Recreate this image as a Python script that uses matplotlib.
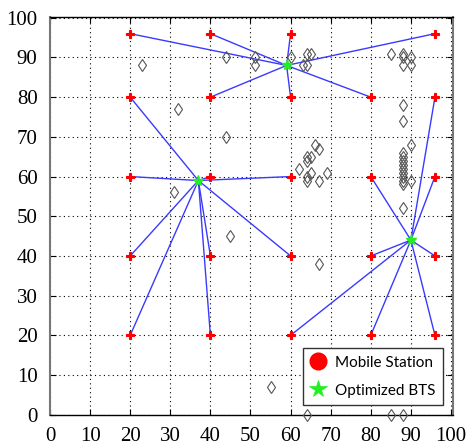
import matplotlib
matplotlib.use("Agg")
import matplotlib.pyplot as plt
from matplotlib.lines import Line2D
import numpy as np

# Mobile stations
ms_x = [20, 40, 60, 96, 20, 40, 60, 80, 96, 20, 40, 60, 80, 96, 20, 40, 60, 80, 96, 20, 40, 60, 80, 96]
ms_y = [96, 96, 96, 96, 80, 80, 80, 80, 80, 60, 60, 60, 60, 60, 40, 40, 40, 40, 40, 20, 20, 20, 20, 20]
# index of BTS each station is assigned to
ms_bts = [0, 0, 0, 0, 1, 0, 0, 0, 2, 1, 1, 1, 2, 2, 1, 1, 1, 2, 2, 1, 1, 2, 2, 2]

# Optimized BTS
bts_x = [59, 37, 90]
bts_y = [88, 59, 44]

# Other (candidate) points, diamonds
dia_x = [23, 32, 44, 44, 31, 45, 51, 51, 60, 64, 65, 63, 64,
         85, 88, 88, 88, 90, 90,
         66, 67, 64, 65, 64, 62, 65, 69, 64, 64, 67, 67,
         88, 88, 90, 88, 88, 88, 88, 88, 88, 88, 88, 88, 90, 88,
         55, 64, 85, 88]
dia_y = [88, 77, 70, 90, 56, 45, 90, 88, 90, 91, 91, 88, 88,
         91, 91, 90, 88, 90, 88,
         68, 67, 65, 65, 64, 62, 61, 61, 60, 59, 59, 38,
         78, 74, 68, 66, 65, 64, 63, 62, 61, 60, 59, 58, 59, 52,
         7, 0, 0, 0]

xticks = list(range(0, 101, 10))
yticks = list(range(0, 101, 10))

fig = plt.figure(figsize=(4.7, 4.46), dpi=100)
ax = fig.add_axes([50/470, 1 - 414.7/446, 403/470, 397.7/446])

# connection lines
for x, y, b in zip(ms_x, ms_y, ms_bts):
    ax.plot([x, bts_x[b]], [y, bts_y[b]], color='#3a3aff', lw=1.0, zorder=2)

ax.plot(dia_x, dia_y, linestyle='none', marker='d', markersize=6.5,
        markerfacecolor='none', markeredgecolor='#555555', markeredgewidth=0.8,
        zorder=3, clip_on=False)

ax.plot(ms_x, ms_y, linestyle='none', marker='P', markersize=6,
        color='red', markeredgewidth=0.8, zorder=4)
ax.plot(bts_x, bts_y, linestyle='none', marker='*', markersize=8,
        color='#22ee22', markeredgewidth=1.0, zorder=5)

ax.set_xlim(0, 100.5)
ax.set_ylim(0, 100.2)
ax.set_xticks(xticks)
ax.set_yticks(yticks)
serif = ['Liberation Serif', 'DejaVu Serif']
ax.set_xticklabels([str(t) for t in xticks], fontsize=15, family=serif)
ax.set_yticklabels([str(t) for t in yticks], fontsize=15, family=serif)
ax.tick_params(direction='in', length=4, top=True, right=True, width=0.8)
ax.tick_params(axis='x', pad=9)
ax.tick_params(axis='y', pad=9)

ax.grid(True, color='black', linestyle=(0, (1, 3)), linewidth=0.8)
ax.set_axisbelow(True)

for s in ['top', 'bottom']:
    ax.spines[s].set_color('black')
    ax.spines[s].set_linewidth(1.0)
for s in ['left', 'right']:
    ax.spines[s].set_color('#777777')
    ax.spines[s].set_linewidth(1.5)

handles = [
    Line2D([], [], linestyle='none', marker='o', markersize=11, color='red', markeredgewidth=2),
    Line2D([], [], linestyle='none', marker='*', markersize=13, color='#22ee22', markeredgewidth=0.5),
]
leg = ax.legend(handles, ['Mobile Station', 'Optimized BTS'], loc='lower right',
                bbox_to_anchor=(0.975, 0.024), borderaxespad=0, fancybox=False, framealpha=1,
                edgecolor='#333333', prop={'family': ['Lato', 'DejaVu Sans'], 'size': 11},
                handlelength=1.0, handletextpad=0.6, borderpad=0.5, labelspacing=0.9)
leg.get_frame().set_linewidth(1.0)

fig.savefig('out.png', dpi=100)
